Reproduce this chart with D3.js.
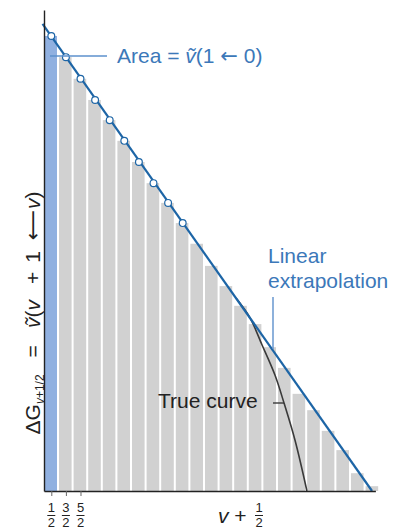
<!DOCTYPE html>
<html>
<head>
<meta charset="utf-8">
<script src="https://cdn.jsdelivr.net/npm/d3@7"></script>
<style>
  body { margin: 0; background: #fff; }
  svg text { font-family: "Liberation Sans", Arial, Helvetica, sans-serif; }
</style>
</head>
<body>
<div id="chart"></div>
<script>
// vibrational quantum numbers v (one bar per v, centred on v + 1/2)
var levels = [0, 1, 2, 3, 4, 5, 6, 7, 8, 9, 10, 11, 12, 13, 14, 15, 16, 17, 18, 19, 20, 21, 22];

// Delta G(v+1/2), arbitrary units
var deltaG = [94.6, 90.2, 85.7, 81.3, 77.1, 72.8, 68.4, 64.0, 59.9, 55.7, 51.4, 46.8,
    42.6, 38.5, 34.7, 29.9, 25.6, 20.2, 16.8, 12.5, 8.5, 3.7, 1.0];

// how many of the first bars carry an open data point
var markedCount = 10;

// linear extrapolation (end points)
var fitV = [-0.1, 22.47];
var fitG = [97.1, 0];

// true curve, leaving the straight line near the top of the well
var curveV = [13.15, 14.11, 14.93, 15.82, 16.44, 17.19, 18.01];
var curveG = [40.1, 36.0, 30.4, 24.1, 18.3, 10.6, 0];

// tick positions on the x axis and their labels (numerator / 2)
var tickPos = [0.5, 1.5, 2.5];
var tickNum = ["1", "3", "5"];

// SVG area
var svgWidth = 400;
var svgHeight = 529;

var chartMargin = {
    top: 10,
    right: 24.6,
    bottom: 38,
    left: 44
};

var chartWidth = svgWidth - chartMargin.left - chartMargin.right;
var chartHeight = svgHeight - chartMargin.top - chartMargin.bottom;

var svg = d3.select("#chart")
    .append("svg")
    .attr("width", svgWidth)
    .attr("height", svgHeight);

var chartGroup = svg.append("g")
    .attr("transform", `translate(${chartMargin.left}, ${chartMargin.top})`);

// scales
var xLinearScale = d3.scaleLinear()
    .domain([0, 22.7])
    .range([0, chartWidth]);

var yLinearScale = d3.scaleLinear()
    .domain([0, 100])
    .range([chartHeight, 0]);

var step = xLinearScale(1) - xLinearScale(0);

var blue = "#1d65a6";
var textBlue = "#3c78b9";
var arrowFont = "DejaVu Sans";

// bars
chartGroup.selectAll("rect.bar")
    .data(levels)
    .enter()
    .append("rect")
    .attr("class", "bar")
    .attr("x", d => xLinearScale(d) + 0.4)
    .attr("width", step - 2)
    .attr("y", (d, i) => yLinearScale(deltaG[i]))
    .attr("height", (d, i) => chartHeight - yLinearScale(deltaG[i]))
    .attr("fill", (d, i) => i === 0 ? "#90b0e0" : "#d1d1d1");

// true curve
var line = d3.line()
    .x(d => xLinearScale(d[0]))
    .y(d => yLinearScale(d[1]));

chartGroup.append("path")
    .datum(curveV.map((v, i) => [v, curveG[i]]))
    .attr("d", line.curve(d3.curveCatmullRom))
    .attr("fill", "none")
    .attr("stroke", "#3a3a3a")
    .attr("stroke-width", 1.6);

// linear extrapolation
chartGroup.append("path")
    .datum(fitV.map((v, i) => [v, fitG[i]]))
    .attr("d", d3.line()
        .x(d => xLinearScale(d[0]))
        .y(d => yLinearScale(d[1])))
    .attr("fill", "none")
    .attr("stroke", blue)
    .attr("stroke-width", 2.2);

// open points on the first bars
chartGroup.selectAll("circle")
    .data(levels.slice(0, markedCount))
    .enter()
    .append("circle")
    .attr("cx", d => xLinearScale(d + 0.5))
    .attr("cy", (d, i) => yLinearScale(deltaG[i]))
    .attr("r", 3.4)
    .attr("fill", "#fff")
    .attr("stroke", blue)
    .attr("stroke-width", 1.2);

// axes
var bottomAxis = d3.axisBottom(xLinearScale)
    .tickValues(tickPos)
    .tickSize(5)
    .tickSizeOuter(0)
    .tickFormat("");

var leftAxis = d3.axisLeft(yLinearScale)
    .tickValues([])
    .tickSizeOuter(0);

var xAxis = chartGroup.append("g")
    .attr("transform", `translate(0, ${chartHeight})`)
    .call(bottomAxis);
xAxis.select(".domain").attr("stroke", "#222").attr("stroke-width", 1.4);
xAxis.selectAll(".tick line").attr("stroke", "#666");

var yAxis = chartGroup.append("g").call(leftAxis);
yAxis.select(".domain").attr("stroke", "#222").attr("stroke-width", 1.4);

// fraction tick labels
var fracs = chartGroup.selectAll("g.frac")
    .data(tickPos)
    .enter()
    .append("g")
    .attr("class", "frac")
    .attr("transform", d => `translate(${xLinearScale(d)}, ${chartHeight})`);

fracs.append("text")
    .attr("y", 21)
    .attr("text-anchor", "middle")
    .attr("font-size", 13)
    .attr("fill", "#222")
    .text((d, i) => tickNum[i]);

fracs.append("line")
    .attr("x1", -4).attr("x2", 4)
    .attr("y1", 24.5).attr("y2", 24.5)
    .attr("stroke", "#222")
    .attr("stroke-width", 1);

fracs.append("text")
    .attr("y", 36)
    .attr("text-anchor", "middle")
    .attr("font-size", 13)
    .attr("fill", "#222")
    .text("2");

// x axis title: v + 1/2
var xTitle = chartGroup.append("g")
    .attr("transform", `translate(174, ${chartHeight})`);

xTitle.append("text")
    .attr("y", 32)
    .attr("font-size", 21)
    .attr("fill", "#222")
    .html('<tspan font-style="italic">v</tspan>\u00a0+');

xTitle.append("text")
    .attr("x", 41).attr("y", 21)
    .attr("text-anchor", "middle")
    .attr("font-size", 13)
    .attr("fill", "#222")
    .text("1");
xTitle.append("line")
    .attr("x1", 37).attr("x2", 45)
    .attr("y1", 24.5).attr("y2", 24.5)
    .attr("stroke", "#222");
xTitle.append("text")
    .attr("x", 41).attr("y", 36)
    .attr("text-anchor", "middle")
    .attr("font-size", 13)
    .attr("fill", "#222")
    .text("2");

// y axis title
var yTitle = svg.append("text")
    .attr("transform", "translate(40, 313) rotate(-90)")
    .attr("text-anchor", "middle")
    .attr("font-size", 21)
    .attr("fill", "#222");

yTitle.append("tspan").text("\u0394G");
yTitle.append("tspan").attr("font-size", 12).attr("dy", 4).attr("font-style", "italic").text("v");
yTitle.append("tspan").attr("font-size", 12).text("+1/2");
yTitle.append("tspan").attr("dy", -4).attr("dx", 17).text("=");
yTitle.append("tspan").attr("dx", 17).attr("font-style", "italic").text("\u1e7d");
yTitle.append("tspan").text("(");
yTitle.append("tspan").attr("font-style", "italic").text("v");
yTitle.append("tspan").attr("dx", 16).text("+");
yTitle.append("tspan").attr("dx", 9).text("1");
yTitle.append("tspan").attr("dx", 11).attr("font-family", arrowFont).text("\u27f5");
yTitle.append("tspan").attr("dx", 1).attr("font-style", "italic").text("v");
yTitle.append("tspan").text(")");

// annotation: area of first bar
svg.append("line")
    .attr("x1", 50).attr("x2", 107)
    .attr("y1", 56).attr("y2", 56)
    .attr("stroke", "#5d90cc")
    .attr("stroke-width", 1.4);

svg.append("text")
    .attr("x", 117).attr("y", 63)
    .attr("font-size", 21)
    .attr("fill", textBlue)
    .html('Area = <tspan font-style="italic">\u1e7d</tspan>(1 <tspan font-family="DejaVu Sans">\u2190</tspan> 0)');

// annotation: linear extrapolation
svg.append("text")
    .attr("x", 268).attr("y", 263)
    .attr("font-size", 21)
    .attr("fill", textBlue)
    .text("Linear");
svg.append("text")
    .attr("x", 268).attr("y", 288)
    .attr("font-size", 21)
    .attr("fill", textBlue)
    .text("extrapolation");
svg.append("line")
    .attr("x1", 273).attr("x2", 273)
    .attr("y1", 297).attr("y2", 349)
    .attr("stroke", "#5d90cc")
    .attr("stroke-width", 1.4);

// annotation: true curve
svg.append("text")
    .attr("x", 158).attr("y", 408)
    .attr("font-size", 21)
    .attr("fill", "#222")
    .text("True curve");
svg.append("line")
    .attr("x1", 273).attr("x2", 284)
    .attr("y1", 403).attr("y2", 403)
    .attr("stroke", "#3a3a3a")
    .attr("stroke-width", 1.4);
</script>
</body>
</html>
